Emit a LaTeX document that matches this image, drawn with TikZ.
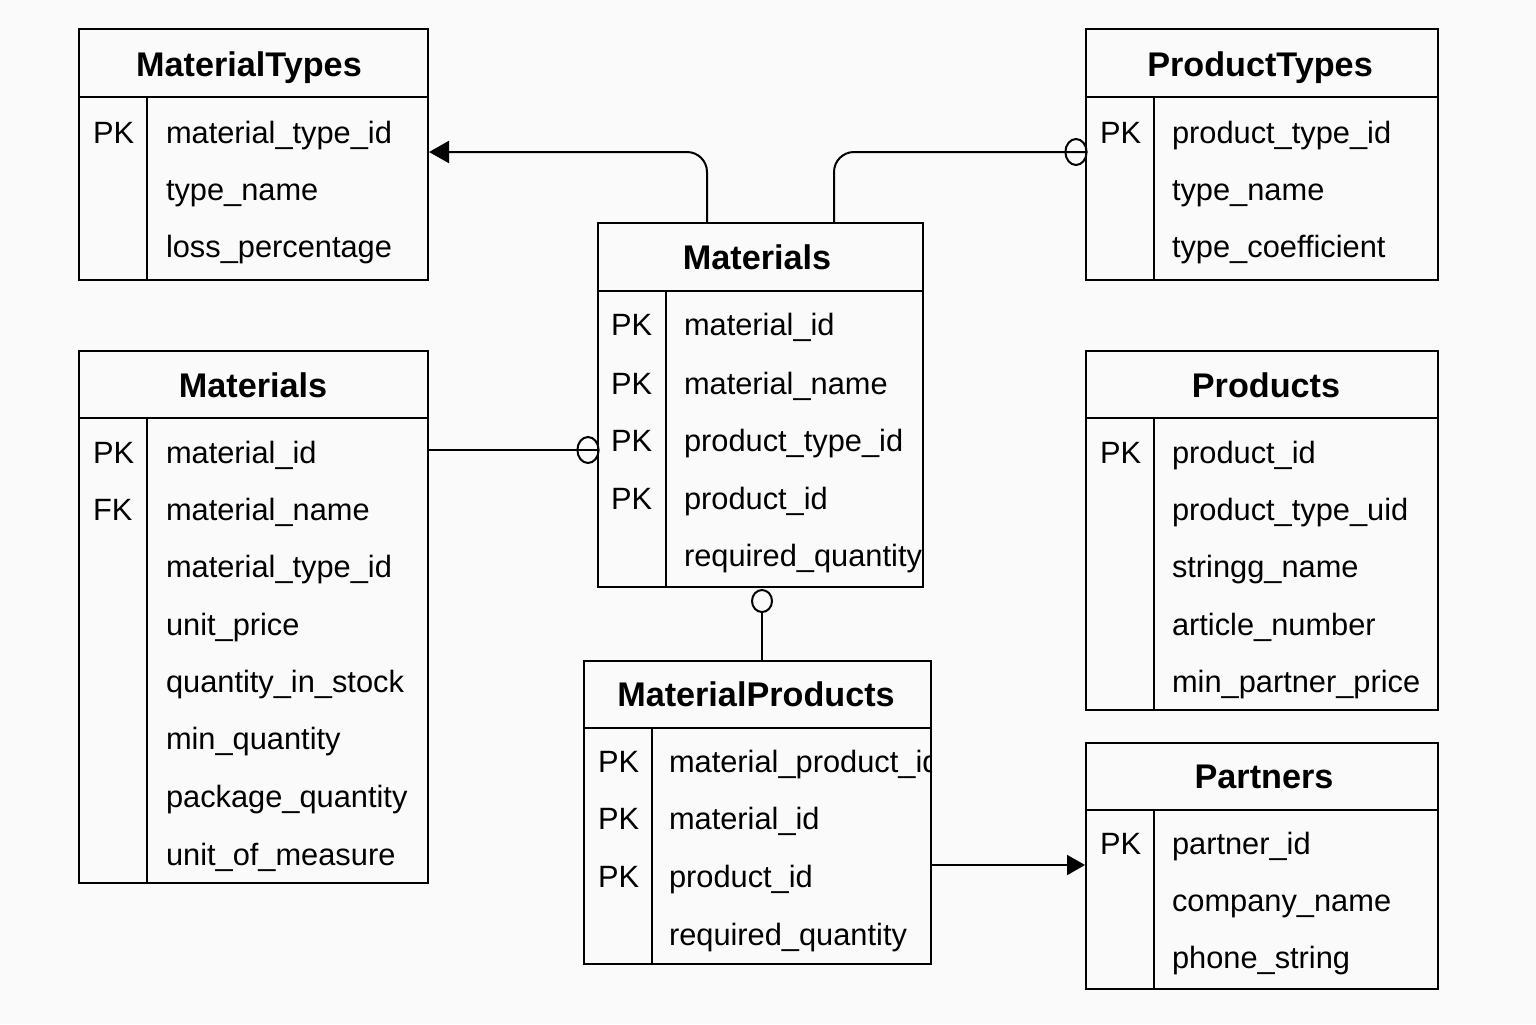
\documentclass[tikz,border=0pt]{standalone}
\usepackage{fontspec}
\setmainfont{Liberation Sans}
\usetikzlibrary{fit,arrows.meta}
\begin{document}
\begin{tikzpicture}[x=0.5pt,y=-0.5pt, line width=1pt,
  tbl/.style={draw, inner sep=0pt, line width=1pt},
  ttl/.style={font=\fontsize{17.1}{20}\selectfont\bfseries, anchor=base, inner sep=0pt},
  fld/.style={font=\fontsize{15.4}{19}\selectfont, anchor=base west, inner sep=0pt},
  conn/.style={line width=1pt},
  ring/.style={line width=1pt}]
\fill[white!98!black] (0,0) rectangle (1536,1024);
\useasboundingbox (0,0) rectangle (1536,1024);

% ---------- MaterialTypes ----------
\node[tbl, fit={(79,29)(428,280)}] (mt) {};
\draw (79,97) -- (428,97); \draw (147,97) -- (147,280);
\node[ttl] (mtT) at (249,76) {MaterialTypes};
\node[fld] (mtk1) at (92,143) {PK};
\node[fld] (mtf1) at (165,143) {material\_type\_id};
\node[fld] (mtf2) at (165,200) {type\_name};
\node[fld] (mtf3) at (165,257) {loss\_percentage};

% ---------- ProductTypes ----------
\node[tbl, fit={(1086,29)(1438,280)}] (pt) {};
\draw (1086,97) -- (1438,97); \draw (1154,97) -- (1154,280);
\node[ttl] (ptT) at (1260,76) {ProductTypes};
\node[fld] (ptk1) at (1099,143) {PK};
\node[fld] (ptf1) at (1171,143) {product\_type\_id};
\node[fld] (ptf2) at (1171,200) {type\_name};
\node[fld] (ptf3) at (1171,257) {type\_coefficient};

% ---------- Materials (centre) ----------
\node[tbl, fit={(598,223)(923,587)}] (mc) {};
\draw (598,291) -- (923,291); \draw (666,291) -- (666,587);
\node[ttl] (mcT) at (757,269) {Materials};
\begin{scope}
\clip (598,291) rectangle (923,587);
\node[fld] (mck1) at (610,335) {PK};
\node[fld] (mck2) at (610,394) {PK};
\node[fld] (mck3) at (610,451) {PK};
\node[fld] (mck4) at (610,509) {PK};
\node[fld] (mcf1) at (683,335) {material\_id};
\node[fld] (mcf2) at (683,394) {material\_name};
\node[fld] (mcf3) at (683,451) {product\_type\_id};
\node[fld] (mcf4) at (683,509) {product\_id};
\node[fld] (mcf5) at (683,566) {required\_quantity};
\end{scope}

% ---------- Materials (left) ----------
\node[tbl, fit={(79,351)(428,883)}] (ml) {};
\draw (79,418) -- (428,418); \draw (147,418) -- (147,883);
\node[ttl] (mlT) at (253,397) {Materials};
\node[fld] (mlk1) at (92,463) {PK};
\node[fld] (mlk2) at (92,520) {FK};
\node[fld] (mlf1) at (165,463) {material\_id};
\node[fld] (mlf2) at (165,520) {material\_name};
\node[fld] (mlf3) at (165,577) {material\_type\_id};
\node[fld] (mlf4) at (165,635) {unit\_price};
\node[fld] (mlf5) at (165,692) {quantity\_in\_stock};
\node[fld] (mlf6) at (165,749) {min\_quantity};
\node[fld] (mlf7) at (165,807) {package\_quantity};
\node[fld] (mlf8) at (165,865) {unit\_of\_measure};

% ---------- Products ----------
\node[tbl, fit={(1086,351)(1438,710)}] (pr) {};
\draw (1086,418) -- (1438,418); \draw (1154,418) -- (1154,710);
\node[ttl] (prT) at (1266,397) {Products};
\node[fld] (prk1) at (1099,463) {PK};
\node[fld] (prf1) at (1171,463) {product\_id};
\node[fld] (prf2) at (1171,520) {product\_type\_uid};
\node[fld] (prf3) at (1171,577) {stringg\_name};
\node[fld] (prf4) at (1171,635) {article\_number};
\node[fld] (prf5) at (1171,692) {min\_partner\_price};

% ---------- MaterialProducts ----------
\node[tbl, fit={(584,661)(931,964)}] (mp) {};
\draw (584,728) -- (931,728); \draw (652,728) -- (652,964);
\node[ttl] (mpT) at (756,706) {MaterialProducts};
\begin{scope}
\clip (584,728) rectangle (931,964);
\node[fld] (mpk1) at (597,772) {PK};
\node[fld] (mpk2) at (597,829) {PK};
\node[fld] (mpk3) at (597,887) {PK};
\node[fld] (mpf1) at (668,772) {material\_product\_id};
\node[fld] (mpf2) at (668,829) {material\_id};
\node[fld] (mpf3) at (668,887) {product\_id};
\node[fld] (mpf4) at (668,945) {required\_quantity};
\end{scope}

% ---------- Partners ----------
\node[tbl, fit={(1086,743)(1438,989)}] (pa) {};
\draw (1086,810) -- (1438,810); \draw (1154,810) -- (1154,989);
\node[ttl] (paT) at (1264,788) {Partners};
\node[fld] (pak1) at (1099,854) {PK};
\node[fld] (paf1) at (1171,854) {partner\_id};
\node[fld] (paf2) at (1171,911) {company\_name};
\node[fld] (paf3) at (1171,968) {phone\_string};

% ---------- Connectors ----------
\coordinate (c1) at (707,223);
\coordinate (c2) at (834,223);
\draw[conn, rounded corners=10pt, -{Triangle[length=10pt,width=11pt]}]
  (c1) |- (mt.east |- 0,152);
\draw[conn, rounded corners=10pt] (c2) |- (pt.west |- 0,152);
\draw[ring] (1076,152) ellipse[x radius=5.3pt, y radius=6.5pt];

\draw[conn] (ml.east |- 0,450) -- (mc.west |- 0,450);
\draw[ring] (588,450) ellipse[x radius=5.3pt, y radius=6.5pt];

\coordinate (c4) at (762,587);
\draw[conn] (762,612) -- (mp.north -| c4);
\draw[ring, fill=white!98!black] (762,601) ellipse[x radius=5pt, y radius=5.5pt];

\draw[conn, -{Triangle[length=9pt,width=10pt]}] (mp.east |- 0,865) -- (pa.west |- 0,865);
\end{tikzpicture}
\end{document}
